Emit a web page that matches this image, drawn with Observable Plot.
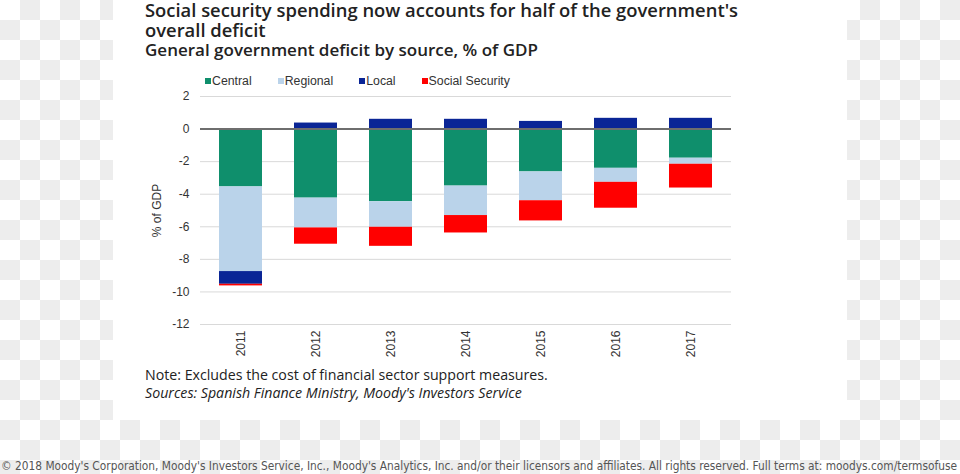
<!DOCTYPE html>
<html>
<head>
<meta charset="utf-8">
<script src="https://cdn.jsdelivr.net/npm/d3@7"></script>
<script src="https://cdn.jsdelivr.net/npm/@observablehq/plot@0.6"></script>
<style>
  html, body { margin: 0; padding: 0; }
  body {
    width: 960px; height: 474px; position: relative; overflow: hidden;
    background: repeating-conic-gradient(#ededed 0 25%, #ffffff 0 50%) 0 0 / 40px 40px;
    font-family: "Open Sans", sans-serif;
  }
  #card { position: absolute; left: 113px; top: 0; width: 734px; height: 420px; background: #fff; }
  .title { position: absolute; left: 145px; top: 0px; font-weight: 600; font-size: 18.4px; line-height: 20px; color: #222; white-space: nowrap; }
  .subtitle { position: absolute; left: 145px; top: 40px; font-weight: 600; font-size: 17px; line-height: 20px; color: #222; white-space: nowrap; }
  #legend { position: absolute; left: 205px; top: 74px; font-family: "Liberation Sans", Arial, sans-serif; font-size: 12.3px; color: #333; display: flex; }
  #legend .item { display: flex; align-items: center; margin-right: 26px; }
  #legend .sw { width: 6px; height: 6px; margin-right: 1px; }
  #chart { position: absolute; left: 113px; top: 86px; }
  .note { position: absolute; left: 145px; top: 366px; font-size: 14.2px; color: #222; line-height: 18px; white-space: nowrap; }
  #copy { position: absolute; left: 0; top: 457px; }
</style>
</head>
<body>
<div id="card"></div>
<div class="title">Social security spending now accounts for half of the government's<br>overall deficit</div>
<div class="subtitle">General government deficit by source, % of GDP</div>
<div id="legend"></div>
<div id="chart"></div>
<div class="note">Note: Excludes the cost of financial sector support measures.<br><i>Sources: Spanish Finance Ministry, Moody's Investors Service</i></div>
<svg id="copy" width="960" height="17"><text x="1" y="13" textLength="956" lengthAdjust="spacingAndGlyphs" font-family="DejaVu Sans Condensed, sans-serif" font-size="12.5" fill="#555">© 2018 Moody's Corporation, Moody's Investors Service, Inc., Moody's Analytics, Inc. and/or their licensors and affiliates. All rights reserved. Full terms at: moodys.com/termsofuse</text></svg>
<script>
const years = ["2011", "2012", "2013", "2014", "2015", "2016", "2017"];
const sources = ["Central", "Regional", "Local", "Social Security"];
const colors = ["#0f8f6c", "#bad3ea", "#0a2596", "#ff0000"];
const central = [-3.55, -4.24, -4.46, -3.50, -2.63, -2.41, -1.79];
const regional = [-5.20, -1.83, -1.57, -1.81, -1.77, -0.86, -0.37];
const local = [-0.78, 0.37, 0.60, 0.60, 0.47, 0.66, 0.66];
const socialSecurity = [-0.10, -1.00, -1.17, -1.07, -1.24, -1.59, -1.46];
const yTicks = [2, 0, -2, -4, -6, -8, -10, -12];

const series = [central, regional, local, socialSecurity];
const data = [];
years.forEach((y, i) => {
  sources.forEach((s, j) => data.push({year: y, source: s, value: series[j][i]}));
});

// legend
const leg = document.getElementById("legend");
sources.forEach((s, j) => {
  const it = document.createElement("div");
  it.className = "item";
  it.innerHTML = `<span class="sw" style="background:${colors[j]}"></span><span>${s}</span>`;
  leg.appendChild(it);
});

const chart = Plot.plot({
  width: 734,
  height: 278,
  marginLeft: 87,
  marginRight: 116,
  marginTop: 10,
  marginBottom: 40,
  style: {background: "transparent", fontFamily: "Liberation Sans, Arial, sans-serif", color: "#333"},
  x: {domain: years, paddingInner: 0.43, paddingOuter: 0.23, label: null},
  y: {domain: [-12, 2], label: null},
  color: {domain: sources, range: colors},
  marks: [
    Plot.gridY(yTicks, {stroke: "#d9d9d9", strokeOpacity: 1}),
    Plot.barY(data, Plot.stackY({x: "year", y: "value", fill: "source", order: sources})),
    Plot.ruleY([0], {stroke: "#6e6e6e", strokeWidth: 2}),
    Plot.axisY({ticks: yTicks, tickSize: 0, tickPadding: 11, fontSize: 12, tickFormat: d => String(d),
      label: "% of GDP", labelAnchor: "center", labelArrow: "none", labelOffset: 48}),
    Plot.axisX({tickRotate: -90, tickSize: 0, tickPadding: 6, fontSize: 12, label: null})
  ]
});
document.getElementById("chart").appendChild(chart);
</script>
</body>
</html>
